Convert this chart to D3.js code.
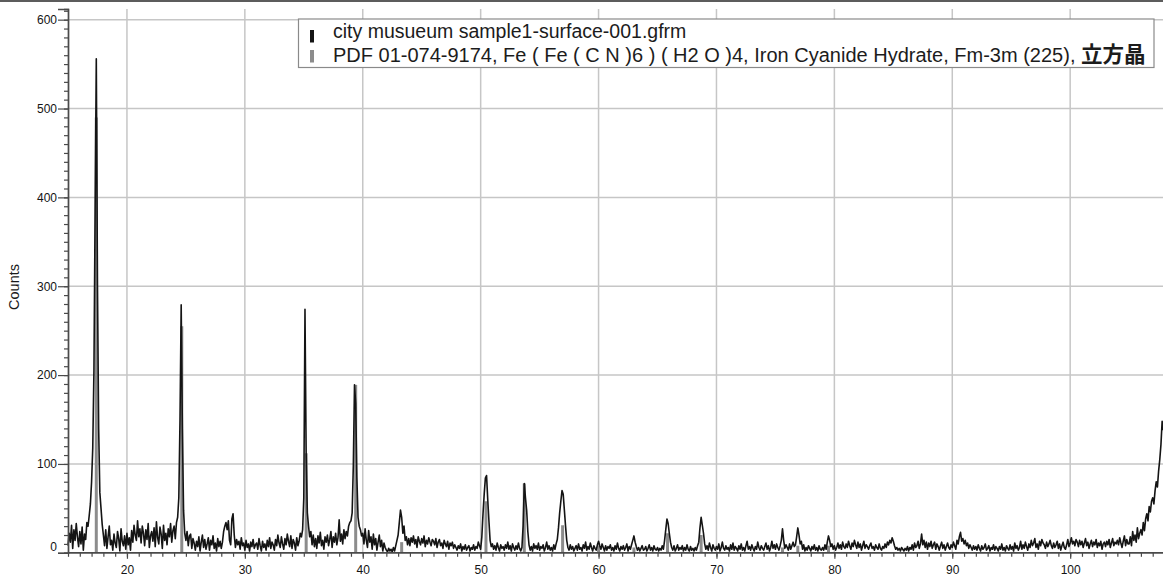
<!DOCTYPE html>
<html><head><meta charset="utf-8">
<script src="https://cdn.jsdelivr.net/npm/d3@7"></script>
<style>
html,body{margin:0;padding:0;background:#fff;}
svg{display:block;}
text{font-family:"Liberation Sans",Arial,"Noto Sans CJK JP",sans-serif;}
</style></head>
<body>
<svg id="chart" width="1163" height="579"></svg>
<script>
// ---- data ----
const scanStart = 15.0;   // 2θ of first point
const scanStep = 0.1;     // 2θ step
// observed counts, 10 points per degree, 15.0 .. 107.9
const counts = [
 8,22,12,31,5,26,14,33,18,7,          // 15
 24,10,29,3,21,15,34,30,42,55,        // 16
 80,118,205,385,556,300,140,68,50,32, // 17
 20,8,26,5,18,30,9,14,3,21,           // 18
 11,6,24,16,2,27,13,8,19,4,           // 19
 22,9,17,3,25,12,31,20,14,36,         // 20
 18,27,11,30,22,8,26,15,33,6,         // 21
 19,24,13,28,7,35,17,10,29,21,        // 22
 5,31,14,22,9,27,18,33,12,25,         // 23
 30,16,34,40,62,150,279,140,48,22,    // 24
 14,24,8,19,21,5,16,11,3,13,          // 25
 7,18,2,12,20,6,15,4,10,17,           // 26
 3,14,9,19,5,11,2,16,7,13,            // 27
 5,12,24,30,34,26,36,14,9,38,         // 28
 44,20,6,15,9,13,4,17,8,11,           // 29
 3,14,6,10,2,12,7,15,5,9,             // 30
 11,4,16,8,2,13,6,10,3,14,            // 31
 7,17,5,12,9,3,15,8,20,11,            // 32
 6,18,10,4,16,9,21,13,7,19,           // 33
 5,15,11,3,17,8,13,22,18,26,          // 34
 62,274,110,45,30,18,24,9,20,7,       // 35
 16,5,19,11,23,8,14,4,18,12,          // 36
 20,8,15,24,6,18,12,22,9,17,          // 37
 37,13,21,10,26,16,24,19,30,34,       // 38
 36,45,98,189,168,85,40,30,26,19,     // 39
 22,10,27,14,6,25,12,18,4,21,         // 40
 9,16,3,12,20,7,14,2,11,6,            // 41
 3,1,5,2,4,1,6,2,8,14,                // 42
 20,34,48,40,22,30,14,18,9,16,        // 43
 8,17,12,19,10,15,6,18,13,9,          // 44
 16,11,19,7,14,10,17,12,8,15,         // 45
 13,9,16,6,12,15,8,11,5,14,           // 46
 10,7,13,4,11,8,12,5,9,6,             // 47
 3,8,5,10,2,7,4,9,3,6,                // 48
 8,2,6,4,9,3,7,5,12,8,                // 49
 4,18,44,66,84,87,60,36,14,7,         // 50
 10,4,8,3,11,6,2,9,5,7,               // 51
 3,9,5,12,4,8,2,10,6,3,               // 52
 8,4,11,5,2,6,30,78,62,48,            // 53
 24,9,3,7,2,10,5,8,4,11,              // 54
 3,7,5,9,2,6,12,4,8,3,                // 55
 6,2,9,4,10,15,28,45,58,70,           // 56
 66,48,30,14,6,3,9,4,7,2,             // 57
 5,8,3,10,4,6,2,9,5,12,               // 58
 3,7,4,11,6,2,8,5,3,9,                // 59
 13,8,4,10,6,2,8,3,7,5,               // 60
 9,3,6,2,8,4,11,5,2,7,                // 61
 4,8,3,6,10,2,7,4,9,14,               // 62
 19,12,7,3,6,2,5,8,3,4,               // 63
 7,2,5,9,3,6,2,8,4,3,                 // 64
 6,2,5,3,8,4,14,26,38,33,             // 65
 22,12,6,3,8,2,5,9,3,6,               // 66
 4,8,2,6,3,9,4,2,7,3,                 // 67
 5,2,6,3,8,12,28,40,31,22,            // 68
 10,4,8,3,11,6,2,9,5,3,               // 69
 7,4,10,2,6,12,5,3,8,4,               // 70
 6,2,9,4,11,3,7,5,2,8,                // 71
 4,10,3,6,2,8,13,4,7,3,               // 72
 9,5,2,7,4,12,6,3,8,5,                // 73
 3,7,11,4,8,2,6,13,5,9,               // 74
 4,10,6,3,8,14,27,14,5,9,             // 75
 6,3,10,4,8,12,7,9,18,28,             // 76
 20,10,13,4,9,2,6,3,8,5,              // 77
 2,7,4,9,3,6,2,8,4,3,                 // 78
 6,3,9,4,12,19,14,7,10,4,             // 79
 8,3,6,11,5,9,4,12,7,5,               // 80
 10,6,13,8,4,11,7,14,9,5,             // 81
 12,6,10,3,8,13,5,9,7,4,              // 82
 8,11,5,7,3,9,6,4,10,5,               // 83
 3,7,5,10,6,12,9,14,11,17,            // 84
 13,8,4,6,3,5,2,6,4,2,                // 85
 5,3,7,2,6,4,9,3,11,6,                // 86
 8,13,5,10,21,9,14,6,12,4,            // 87
 11,7,13,5,9,12,4,10,7,3,             // 88
 8,12,5,9,3,7,11,6,4,9,               // 89
 6,12,8,4,14,10,18,23,13,16,          // 90
 10,14,8,11,5,9,6,3,8,4,              // 91
 7,3,9,5,2,8,4,6,10,3,                // 92
 5,8,2,6,4,9,3,7,5,2,                 // 93
 7,4,10,3,6,2,8,5,3,9,                // 94
 4,7,2,11,5,8,3,6,13,4,               // 95
 9,5,12,7,3,10,6,14,8,11,             // 96
 16,6,10,4,13,8,15,11,9,5,            // 97
 12,7,10,14,8,5,11,6,9,13,            // 98
 5,10,3,8,12,6,4,9,15,7,              // 99
 11,17,10,13,8,15,12,7,14,9,          // 100
 13,6,11,16,8,12,5,10,14,7,           // 101
 12,9,15,6,11,8,13,4,10,12,           // 102
 7,13,9,15,6,11,16,8,12,10,           // 103
 14,9,17,11,6,13,19,8,15,10,          // 104
 10,18,8,24,14,20,12,28,16,22,        // 105
 26,20,34,25,38,44,36,52,46,58,       // 106
 62,55,70,80,74,92,105,122,148,138    // 107
];
// reference pattern (PDF 01-074-9174) stick positions and heights
const refPos = [17.4, 24.65, 35.2, 39.4, 43.3, 50.45, 53.7, 56.95, 60.0, 63.0, 65.85, 68.7, 75.6, 76.9, 79.5];
const refInt = [490, 255, 112, 189, 12, 58, 78, 31, 8, 6, 22, 20, 6, 8, 8];
const xTicks = [20, 30, 40, 50, 60, 70, 80, 90, 100];
const yTicks = [0, 100, 200, 300, 400, 500, 600];
const legendLabels = [
  "city musueum sample1-surface-001.gfrm",
  "PDF 01-074-9174, Fe ( Fe ( C N )6 ) ( H2 O )4, Iron Cyanide Hydrate, Fm-3m (225), "
];
const legendCJK = ["", "立方晶"];
const yTitle = "Counts";

// ---- drawing ----
const svg = d3.select("#chart");
const x = d3.scaleLinear().domain([15, 108]).range([68, 1164.5]);
const y = d3.scaleLinear().domain([0, 612]).range([552.8, 9]);

svg.append("rect").attr("x",0).attr("y",0).attr("width",1163).attr("height",579).attr("fill","#fff");
svg.append("rect").attr("x",0).attr("y",0).attr("width",1163).attr("height",2).attr("fill","#5c5c5c");

// grid
const grid = svg.append("g").attr("stroke","#c6c6c6").attr("stroke-width",1.5);
grid.selectAll("line.v").data(xTicks).join("line").attr("class","v")
  .attr("x1",d=>x(d)).attr("x2",d=>x(d)).attr("y1",y(612)).attr("y2",y(0));
grid.selectAll("line.h").data(yTicks.filter(d=>d>0)).join("line").attr("class","h")
  .attr("x1",x(15)).attr("x2",1163).attr("y1",d=>y(d)).attr("y2",d=>y(d));

// reference sticks
svg.append("g").selectAll("line").data(refPos).join("line")
  .attr("x1",d=>x(d)).attr("x2",d=>x(d)).attr("y1",y(0))
  .attr("y2",(d,i)=>y(refInt[i]))
  .attr("stroke","#8c8c8c").attr("stroke-width",3);

// observed pattern
const pts = counts.map((c,i)=>[scanStart + i*scanStep, c]);
const line = d3.line().x(d=>x(d[0])).y(d=>y(d[1]));
svg.append("path").datum(pts).attr("d",line)
  .attr("fill","none").attr("stroke","#141414").attr("stroke-width",1.6).attr("stroke-linejoin","round");

// axes
const xAxis = svg.append("g").attr("transform",`translate(0,${y(0)})`);
xAxis.call(d3.axisBottom(x).tickValues(xTicks).tickSize(6).tickPadding(7).tickFormat(d3.format("d")));
const xMinor = svg.append("g").attr("transform",`translate(0,${y(0)})`);
xMinor.call(d3.axisBottom(x).tickValues(d3.range(15,108,1)).tickSize(4).tickFormat(""));
const yAxis = svg.append("g").attr("transform",`translate(${x(15)},0)`);
yAxis.call(d3.axisLeft(y).tickValues(yTicks).tickSize(10).tickPadding(1).tickFormat(d3.format("d")));
const yMinor = svg.append("g").attr("transform",`translate(${x(15)},0)`);
yMinor.call(d3.axisLeft(y).tickValues(d3.range(0,611,10)).tickSize(4).tickFormat(""));
[xAxis,xMinor,yAxis,yMinor].forEach(g=>{
  g.selectAll("path.domain").attr("stroke","#4a4a4a").attr("stroke-width",1.4);
  g.selectAll(".tick line").attr("stroke","#4a4a4a").attr("stroke-width",1.2);
  g.selectAll("text").attr("fill","#141414").attr("font-size","12px")
   .attr("font-family",'"Liberation Sans",Arial,sans-serif');
});
xMinor.select("path.domain").attr("d",`M${x(15)},0H1163`);
xAxis.select("path.domain").attr("d",`M${x(15)},0H1163`);
// the zero label sits a little above the x axis
yAxis.selectAll(".tick").filter(d=>d===0).select("text").attr("y",-6);

svg.append("text").attr("transform","translate(19,287) rotate(-90)")
  .attr("text-anchor","middle").attr("font-size","14.5px").attr("fill","#1a1a1a").text(yTitle);

// legend
const lg = svg.append("g");
lg.append("rect").attr("x",298.5).attr("y",19).attr("width",855.5).attr("height",48.5)
  .attr("fill","#fff").attr("stroke","#8a8a8a").attr("stroke-width",1.2);
const mkColors = ["#141414","#8c8c8c"];
const lgSizes = ["19.5px","20px"];
legendLabels.forEach((t,i)=>{
  lg.append("rect").attr("x",310).attr("y",30+i*20).attr("width",4).attr("height",12.5).attr("fill",mkColors[i]);
  const tx = lg.append("text").attr("x",333).attr("y",38.3+i*23.7).attr("font-size",lgSizes[i]).attr("fill","#1c1c1c")
    .attr("xml:space","preserve");
  tx.append("tspan").text(t);
  if (legendCJK[i]) tx.append("tspan").attr("font-family",'"Noto Sans CJK JP",sans-serif')
     .attr("font-size","21.5px").attr("font-weight","bold").text(legendCJK[i]);
});
</script>
</body></html>
